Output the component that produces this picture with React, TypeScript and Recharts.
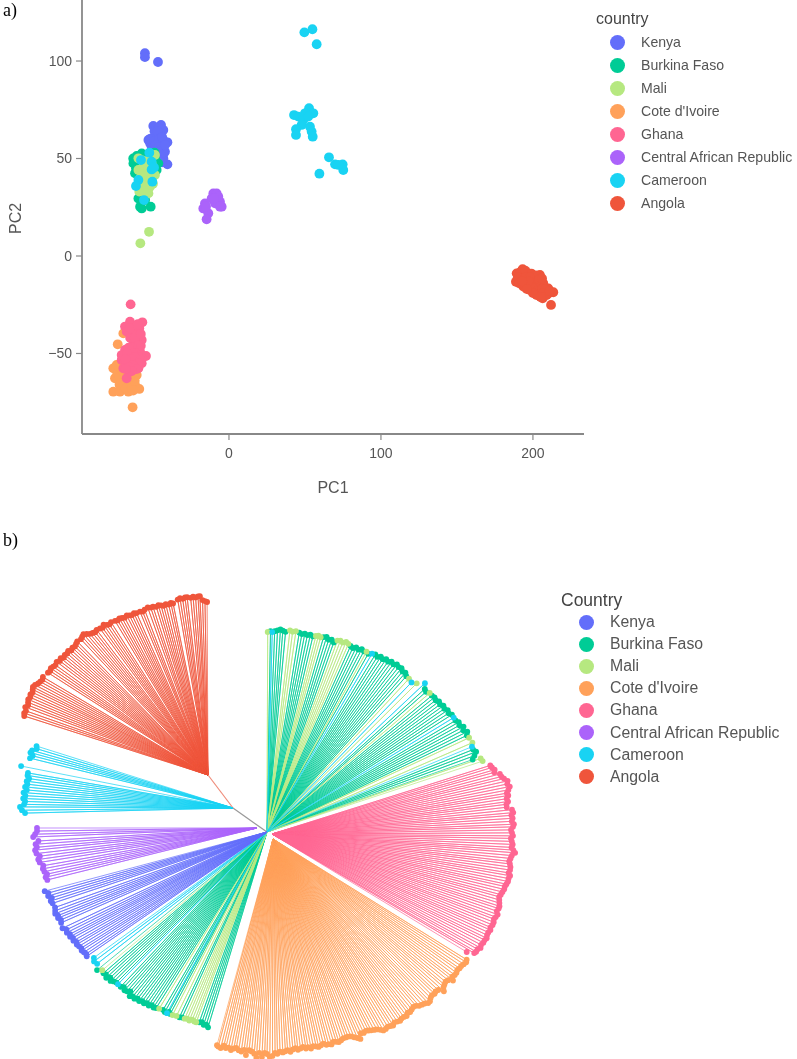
import { ScatterChart, Scatter, XAxis, YAxis } from 'recharts';

const COUNTRIES = ['Kenya', 'Burkina Faso', 'Mali', "Cote d'Ivoire", 'Ghana', 'Central African Republic', 'Cameroon', 'Angola'];
const COLORS = ['#636EFA', '#00CC96', '#B6E880', '#FFA15A', '#FF6692', '#AB63FA', '#19D3F3', '#EF553B'];

// panel a: PC1 / PC2 of each sample
const kenyaPC = [[-55.3, 104], [-55.3, 102], [-46.7, 99.5], [-49.8, 66.7], [-44.7, 67.2], [-43.2, 64.6], [-46.5, 65.5], [-40.5, 58.3], [-50.9, 60.3], [-51.9, 57.8], [-47.6, 61.2], [-45.4, 58.6], [-48.7, 56.9], [-44.3, 54.3], [-43.2, 50.1], [-40.5, 47], [-46.5, 51.8], [-50.9, 56], [-48, 62.9], [-43.2, 56], [-45.4, 62.9], [-50.2, 58.6], [-47.1, 54.3], [-42.1, 53.5], [-53, 59.5], [-43.2, 59.5], [-49, 64], [-47, 64], [-52, 60], [-49, 59], [-46, 60], [-44, 61], [-48, 57], [-46, 56], [-50, 54], [-48, 52], [-45, 52], [-44, 48], [-46, 49], [-42, 57]];
const burkinaPC = [[-60.7, 51.3], [-62.9, 47.5], [-46.5, 47.5], [-57.4, 52.6], [-61.8, 42.4], [-59.6, 29.5], [-57.4, 24.4], [-51.5, 25.3], [-55.2, 28.7], [-58.5, 25.3], [-48.7, 50.1], [-47.6, 44.1], [-61.2, 45], [-58.5, 48.4], [-52, 51.8], [-63, 50], [-49, 53]];
const maliPC = [[-52.6, 12.4], [-58.3, 6.5], [-59.6, 50.1], [-55.2, 47.5], [-48.7, 51.8], [-50.9, 47.5], [-59.6, 44.1], [-54.1, 43.2], [-48.7, 41.5], [-58.5, 39.8], [-53, 39], [-59, 33], [-53, 32.1], [-56.3, 36.4], [-52, 35.5], [-57, 49], [-53, 49], [-51, 45], [-57, 45], [-55, 41], [-51, 41], [-57, 37], [-54, 36], [-56, 33], [-50, 37], [-57, 41], [-53, 46]];
const cotePC = [[-69.5, -39.7], [-73.2, -45.3], [-76.1, -57.6], [-73.9, -55.9], [-75, -62.7], [-73.4, -60.2], [-76.1, -69.6], [-71.7, -69.6], [-66.2, -69.6], [-59, -68.2], [-61.8, -66.2], [-69.5, -67], [-63.4, -77.6], [-60.7, -61], [-65.1, -65.3], [-70.6, -63.6], [-68.4, -65.3], [-72, -66], [-68, -68], [-64, -68], [-62, -64], [-72, -62], [-68, -62], [-65, -62], [-70, -59], [-72, -57], [-63, -69]];
const ghanaPC = [[-64.7, -24.8], [-57, -34], [-65.1, -33.7], [-68.4, -36.2], [-61.8, -38], [-67.3, -38.8], [-57.4, -43.1], [-62.9, -44.8], [-60.7, -42.2], [-68.4, -48.2], [-70.6, -53.3], [-54.6, -51.3], [-58.5, -49], [-65.1, -50.8], [-61.8, -54.2], [-57.4, -55], [-69.5, -57.6], [-65.1, -59.3], [-67.3, -62.7], [-59.6, -57.6], [-62.9, -47.4], [-66.2, -54.2], [-57.4, -52.5], [-70.6, -50.8], [-63, -40], [-60, -40], [-65, -42], [-62, -42], [-58, -46], [-60, -46], [-64, -47], [-66, -47], [-61, -50], [-63, -50], [-67, -50], [-59, -52], [-62, -52], [-64, -53], [-68, -53], [-60, -55], [-63, -56], [-66, -57], [-61, -58], [-64, -59], [-68, -58], [-63, -37], [-65, -37], [-59, -37], [-60, -35], [-58, -40]];
const carPC = [[-10.3, 32.1], [-8.1, 32.1], [-11.4, 29.5], [-5.9, 27.8], [-4.8, 25.3], [-15.8, 27], [-16.9, 24.4], [-13.6, 21.9], [-14.7, 18.8], [-9.2, 27], [-7, 30.4], [-5.9, 25.3], [-15.1, 25.3], [-9.8, 29.5]];
const cameroonPC = [[-57.9, 49.2], [-52.4, 53], [-50.9, 48.4], [-50.9, 44.4], [-59.6, 39], [-61.2, 35.9], [-50.4, 38.1], [-55.9, 28.7], [-49.3, 45.4], [54.9, 116.3], [49.6, 114.7], [57.7, 108.6], [42.8, 72.3], [45.6, 71.5], [52.7, 75.8], [55.5, 73.2], [50, 73.2], [48.9, 69.8], [47.8, 67.2], [44.1, 65], [44.1, 62.1], [53.3, 66.3], [54.4, 63.8], [55.1, 61.2], [52.2, 71.5], [65.8, 50.6], [69.8, 47], [74.8, 47], [75.2, 44.1], [59.5, 42.2], [72, 46.7]];
const angolaPC = [[193.2, -6.8], [189.3, -8.9], [188.8, -13.2], [193.7, -10.6], [197, -8.9], [204.6, -9.7], [200.2, -12.3], [193.7, -15.7], [198, -17.4], [202.4, -15.7], [206.8, -14], [210.1, -16.6], [213.4, -18.6], [206.4, -21.7], [211.9, -25.1], [202.4, -20], [195.9, -13.2], [204.6, -18.3], [191.5, -12.3], [210.1, -19.2], [199.2, -14.9], [192, -8], [195, -7.5], [199, -9], [202, -10], [190, -11], [195, -11], [198, -11], [201, -14], [204, -12], [206, -11.5], [191, -14], [195, -15], [197, -15], [200, -16.5], [203, -18], [206, -17], [208, -17], [209, -20], [207, -19], [200, -19], [205, -21], [197, -13], [193, -13], [196, -17], [211, -18]];
const PC_SETS = [kenyaPC, burkinaPC, maliPC, cotePC, ghanaPC, carPC, cameroonPC, angolaPC];

const PC1_TICKS = [0, 100, 200];
const PC2_TICKS = [-50, 0, 50, 100];

// panel b: branch points of the tree and tips as [angle clockwise from north, branch length]
const rootHub = [0, 0];
const ghanaHub = [5, -2];
const coteHub = [6, -7];
const carHub = [-10, 4];
const cameroonHub = [-34, 24];
const angolaHub = [-59, 57];

const burkinaUpper = [[1, 201], [2.2, 201], [3, 202], [3.8, 203], [4.5, 202], [5.3, 201], [9.2, 202], [10, 201], [10.8, 202], [11.6, 201], [12.4, 202], [13.2, 201], [16.2, 203], [17, 204], [17.8, 202], [18.6, 203], [19.4, 201], [24.2, 204], [25, 203], [25.8, 205], [26.6, 204], [27.4, 206], [28.2, 205], [29.6, 205], [31.4, 208], [32.2, 207], [33, 209], [33.8, 208], [34.6, 210], [35.4, 209], [36.2, 211], [37, 210], [37.8, 212], [38.6, 211], [39.4, 212], [40.2, 210], [41, 211], [41.8, 209], [47.8, 213], [48.6, 212], [50.4, 214], [51.2, 215], [52, 214], [52.8, 216], [53.6, 215], [54.4, 217], [55.2, 216], [56, 218], [56.8, 217], [57.6, 219], [59.4, 219], [60.2, 221], [61, 220], [61.8, 223], [62.6, 221], [63.4, 224], [64.2, 222], [68.2, 222], [69, 224], [69.8, 221], [70.6, 218]];
const maliUpper = [[0.2, 200], [6.5, 203], [7.3, 202], [8.2, 203], [14, 202], [14.7, 203], [15.4, 202], [20.2, 204], [21, 205], [21.8, 204], [22.6, 206], [23.4, 205], [28.9, 206], [42.8, 209], [45.2, 211], [49.5, 214], [65, 223], [66.5, 224], [71, 226], [71.8, 227]];
const cameroonUpper = [[1.5, 200], [30.5, 207], [44, 208], [46.7, 217], [58.5, 219], [67.4, 222]];

const ghanaTips = [[73.4, 233], [74, 234], [74.7, 236], [75.3, 235], [76, 240], [76.7, 241], [77.3, 243], [78, 246], [78.7, 245], [79.4, 247], [80.1, 245], [80.8, 243], [81.4, 244], [82.1, 242], [82.8, 243], [83.4, 241], [84.1, 241], [84.8, 246], [85.5, 247], [86.1, 245], [86.8, 246], [87.5, 245], [88.2, 247], [88.8, 246], [89.5, 244], [90.2, 245], [90.9, 246], [91.5, 244], [92.2, 245], [92.9, 246], [93.6, 245], [94.2, 247], [94.8, 249], [95.5, 246], [96.2, 245], [96.9, 244], [97.5, 245], [98.2, 246], [98.9, 246], [99.6, 245], [100.2, 247], [100.9, 246], [101.6, 246], [102.3, 245], [102.9, 244], [103.6, 244], [104.3, 243], [105, 242], [105.6, 241], [106.3, 242], [107, 243], [107.7, 244], [108.3, 244], [109, 243], [109.7, 245], [110.4, 244], [111, 243], [111.7, 244], [112.4, 244], [113.1, 243], [113.7, 244], [114.4, 243], [115.1, 243], [115.8, 244], [116.4, 243], [117.1, 243], [117.8, 242], [118.5, 243], [119.1, 241], [119.8, 241], [120.3, 240], [121, 233]];

const coteTips = [[122.6, 237], [123.2, 238], [123.9, 237], [124.6, 236], [125.3, 236], [125.9, 235], [126.6, 236], [127.3, 236], [128, 235], [128.6, 238], [129.3, 234], [130, 233], [130.7, 234], [131.3, 235], [132, 238], [132.7, 233], [133.4, 232], [134, 233], [134.7, 232], [135.4, 233], [136.1, 235], [136.7, 235], [137.4, 233], [138.1, 232], [138.8, 231], [139.4, 229], [140.1, 228], [140.8, 229], [141.5, 230], [142.1, 229], [142.8, 231], [143.5, 230], [144.2, 230], [144.8, 231], [145.5, 230], [146.2, 229], [146.9, 231], [147.5, 230], [148.2, 229], [148.9, 230], [149.6, 230], [150.2, 228], [150.9, 226], [151.6, 225], [152.3, 224], [152.9, 223], [153.6, 222], [154.3, 223], [155, 222], [155.7, 227], [156.3, 225], [157, 223], [157.7, 221], [158.4, 220], [159, 220], [159.7, 220], [160.4, 221], [161.1, 222], [161.7, 221], [162.4, 220], [163.1, 222], [163.8, 221], [164.4, 221], [165.1, 219], [165.8, 220], [166.5, 221], [167.1, 220], [167.8, 219], [168.5, 221], [169.2, 219], [169.8, 220], [170.5, 218], [171.2, 219], [171.9, 220], [172.5, 218], [173.2, 219], [173.9, 221], [174.6, 219], [175.2, 220], [175.9, 221], [176.6, 220], [177.3, 222], [177.9, 221], [178.6, 224], [179.3, 225], [180, 222], [180.6, 221], [181.3, 225], [182, 221], [182.7, 226], [183.3, 222], [184, 220], [184.7, 219], [185.4, 224], [186, 219], [186.7, 221], [187.4, 220], [188.1, 218], [188.7, 219], [189.4, 221], [190.1, 219], [190.8, 220], [191.4, 218], [192.1, 221], [192.8, 220], [193.2, 219]];

const burkinaLower = [[196.8, 204], [197.5, 202], [198.2, 203], [198.9, 201], [199.6, 202], [204.6, 204], [205.3, 205], [208, 206], [208.6, 205], [209.6, 207], [210.3, 206], [212.2, 208], [212.9, 209], [213.6, 208], [214.3, 210], [215, 209], [215.7, 211], [216.4, 210], [217.1, 212], [217.8, 211], [218.5, 213], [219.2, 212], [219.9, 214], [220.6, 210], [221.3, 212], [222, 213], [222.7, 211], [223.4, 213], [225, 213], [225.7, 214], [226.4, 216], [227.1, 214], [227.8, 217], [228.5, 215], [229.2, 216], [230.9, 219]];
const maliLower = [[200.4, 203], [201, 203], [201.7, 202], [202.4, 204], [203.1, 203], [203.8, 204], [206.2, 205], [207.3, 206], [211.4, 207], [230, 215]];
const cameroonLower = [[208.9, 207], [224.4, 213], [232.2, 215], [233.2, 216], [234, 214]];

const kenyaTips = [[235.4, 219], [236, 218], [236.7, 219], [237.4, 220], [238, 219], [238.7, 220], [239.4, 221], [240, 220], [240.7, 222], [241.4, 221], [242, 223], [242.6, 222], [243.3, 224], [244, 223], [244.8, 226], [246.2, 225], [246.9, 224], [247.6, 226], [248.2, 225], [248.9, 227], [249.6, 226], [250.4, 225], [251.6, 226], [252.3, 227], [253, 225], [253.7, 228], [254.4, 227], [255.1, 230]];

const carTips = [[256.1, 216], [256.9, 217], [257.6, 215], [258.4, 217], [259.2, 218], [260, 217], [261, 220], [261.8, 221], [262.6, 219], [263.4, 222], [264.3, 223], [265, 221], [265.8, 222], [266.6, 219], [267.7, 224], [268.4, 222], [269.2, 220], [270, 220]];

const cameroonLow = [[268.6, 208], [269.4, 211], [270.3, 213], [271, 209], [271.8, 208], [272.6, 210], [273.4, 208], [274.2, 210], [275, 207], [275.8, 209], [276.6, 207], [277.4, 208], [278.2, 206], [279, 208], [279.7, 208], [281.2, 216]];
const cameroonHigh = [[283.8, 209], [284.6, 207], [285.3, 210], [286, 209], [286.8, 205], [287.5, 206]];

const angolaTips = [[287.8, 193], [288.6, 194], [289.4, 193], [290.4, 195], [291.2, 193], [292, 194], [292.8, 195], [293.6, 194], [294.4, 195], [295.2, 194], [296, 195], [296.7, 196], [297.5, 195], [298.3, 193], [299.1, 192], [299.9, 191], [300.7, 192], [302.6, 190], [303.4, 189], [304.2, 190], [305, 189], [305.8, 188], [306.8, 189], [307.6, 187], [308.4, 188], [309.2, 186], [310, 187], [310.8, 186], [311.6, 187], [312.4, 185], [313.2, 186], [314, 185], [314.8, 186], [315.6, 187], [316.9, 186], [317.7, 187], [318.5, 188], [319.3, 186], [320.1, 184], [320.9, 183], [321.7, 182], [322.5, 183], [323.6, 182], [324.4, 181], [325.2, 183], [326, 181], [326.8, 180], [327.6, 181], [328.9, 180], [329.7, 179], [330.5, 180], [331.3, 179], [332.1, 178], [333, 179], [333.8, 178], [334.6, 177], [335.4, 178], [336.2, 177], [337.4, 177], [338.2, 176], [339, 177], [340.2, 178], [341.1, 177], [341.9, 177], [342.9, 176], [343.7, 177], [344.5, 176], [345.3, 175], [346.1, 176], [347, 175], [347.8, 176], [348.5, 175], [350.2, 178], [351, 179], [351.8, 178], [352.6, 179], [353.3, 179], [354.4, 178], [355.2, 179], [356, 178], [356.8, 179], [357.4, 179], [358.2, 175], [359, 174], [359.7, 173]];

// base: where the tip angles are measured from; apex: where the drawn fan meets
const CLADES = [
    { color: 1, base: rootHub, apex: rootHub, tips: burkinaUpper },
    { color: 2, base: rootHub, apex: rootHub, tips: maliUpper },
    { color: 6, base: rootHub, apex: rootHub, tips: cameroonUpper },
    { color: 4, base: rootHub, apex: ghanaHub, tips: ghanaTips },
    { color: 3, base: rootHub, apex: coteHub, tips: coteTips },
    { color: 1, base: rootHub, apex: rootHub, tips: burkinaLower },
    { color: 2, base: rootHub, apex: rootHub, tips: maliLower },
    { color: 6, base: rootHub, apex: rootHub, tips: cameroonLower },
    { color: 0, base: rootHub, apex: rootHub, tips: kenyaTips },
    { color: 5, base: carHub, apex: carHub, tips: carTips },
    { color: 6, base: cameroonHub, apex: cameroonHub, tips: cameroonLow },
    { color: 6, base: cameroonHub, apex: cameroonHub, tips: cameroonHigh },
    { color: 7, base: angolaHub, apex: angolaHub, tips: angolaTips },
];

const toPC = (rows: number[][]) => rows.map(([x, y]) => ({ x, y }));
const toTree = (hub: number[], tips: number[][]) =>
    tips.map(([a, r]) => ({
        x: hub[0] + r * Math.sin((a * Math.PI) / 180),
        y: hub[1] + r * Math.cos((a * Math.PI) / 180),
    }));
const hubPoint = (hub: number[]) => ({ x: hub[0], y: hub[1] });
// one polyline going apex -> tip -> apex -> tip ...
const toFan = (c: any) => toTree(c.base, c.tips).flatMap((p) => [hubPoint(c.apex), p]);

const noDot = () => <g />;
const pcDot = (p: any) => <circle cx={p.cx} cy={p.cy} r={4.9} fill={p.fill} />;
const tipDot = (p: any) => <circle cx={p.cx} cy={p.cy} r={2.9} fill={p.fill} />;
const minus = (v: number) => String(v).replace('-', '\u2212');

const AXIS_TICK = { fill: '#555', fontSize: 14 };
const AXIS_LINE = { stroke: '#888', strokeWidth: 1.8 };
const TICK_LINE = { stroke: '#888', strokeWidth: 1.2 };

function CountryLegend({ title, titleX, titleY, dotX, textX, firstY, step, size, titleSize, dot }: any) {
    return (
        <>
            <div style={{ position: 'absolute', left: titleX, top: titleY - 10, lineHeight: '20px', fontSize: titleSize, color: '#444' }}>{title}</div>
            {COUNTRIES.map((c, i) => (
                <div key={c}>
                    <div style={{ position: 'absolute', left: dotX - dot, top: firstY + i * step - dot, width: dot * 2, height: dot * 2, borderRadius: '50%', background: COLORS[i] }} />
                    <div style={{ position: 'absolute', left: textX, top: firstY + i * step - 10, lineHeight: '20px', fontSize: size, color: '#555', whiteSpace: 'nowrap' }}>{c}</div>
                </div>
            ))}
        </>
    );
}

export default function App() {
    return (
        <div style={{ position: 'absolute', left: 0, top: 0, width: 797, height: 1059, background: '#fff', fontFamily: '"Liberation Sans", Arial, sans-serif', overflow: 'hidden', filter: 'blur(0.45px)' }}>
            <div style={{ position: 'absolute', left: 3, top: 0, fontFamily: '"Liberation Serif", serif', fontSize: 18, lineHeight: '20px' }}>a)</div>
            <div style={{ position: 'absolute', left: 3, top: 530, fontFamily: '"Liberation Serif", serif', fontSize: 18, lineHeight: '20px' }}>b)</div>

            <div style={{ position: 'absolute', left: 0, top: 0 }}>
                <ScatterChart width={797} height={500} margin={{ top: 0, right: 213, bottom: 0, left: 0 }}>
                    <XAxis
                        type="number"
                        dataKey="x"
                        domain={[-96.7, 233.6]}
                        ticks={PC1_TICKS}
                        tick={AXIS_TICK}
                        tickMargin={8}
                        axisLine={AXIS_LINE}
                        tickLine={TICK_LINE}
                        height={66}
                        label={{ value: 'PC1', position: 'insideBottom', offset: 7, fill: '#555', fontSize: 16 }}
                    />
                    <YAxis
                        type="number"
                        dataKey="y"
                        domain={[-91.3, 131.3]}
                        ticks={PC2_TICKS}
                        tick={AXIS_TICK}
                        tickFormatter={minus}
                        tickMargin={4}
                        axisLine={AXIS_LINE}
                        tickLine={TICK_LINE}
                        width={82}
                        label={{ value: 'PC2', angle: -90, position: { x: 21, y: 234 }, textAnchor: 'start', fill: '#555', fontSize: 16 }}
                    />
                    {PC_SETS.map((rows, i) => (
                        <Scatter key={COUNTRIES[i]} name={COUNTRIES[i]} data={toPC(rows)} fill={COLORS[i]} shape={pcDot} isAnimationActive={false} />
                    ))}
                </ScatterChart>
            </div>
            <CountryLegend title="country" titleX={596} titleY={19} dotX={617} textX={641} firstY={42} step={23} size={14.1} titleSize={16} dot={7.5} />

            <div style={{ position: 'absolute', left: 0, top: 540 }}>
                <ScatterChart width={797} height={519} margin={{ top: 0, right: 0, bottom: 0, left: 0 }}>
                    <XAxis type="number" dataKey="x" domain={[-267, 530]} hide />
                    <YAxis type="number" dataKey="y" domain={[-227, 292]} hide />
                    <Scatter data={[hubPoint(rootHub), hubPoint(cameroonHub)]} shape={noDot} line={{ stroke: '#999', strokeWidth: 1.2 }} isAnimationActive={false} />
                    <Scatter data={[hubPoint(cameroonHub), hubPoint(angolaHub)]} shape={noDot} line={{ stroke: '#EF8C7A', strokeWidth: 1.2 }} isAnimationActive={false} />
                    {CLADES.map((c, i) => (
                        <Scatter key={`fan-${i}`} data={toFan(c)} shape={noDot} line={{ stroke: COLORS[c.color], strokeWidth: 0.7 }} isAnimationActive={false} />
                    ))}
                    {CLADES.map((c, i) => (
                        <Scatter key={`tips-${i}`} data={toTree(c.base, c.tips)} fill={COLORS[c.color]} shape={tipDot} isAnimationActive={false} />
                    ))}
                </ScatterChart>
            </div>
            <CountryLegend title="Country" titleX={561} titleY={600} dotX={586} textX={610} firstY={622} step={22.1} size={15.8} titleSize={17.5} dot={7.5} />
        </div>
    );
}
